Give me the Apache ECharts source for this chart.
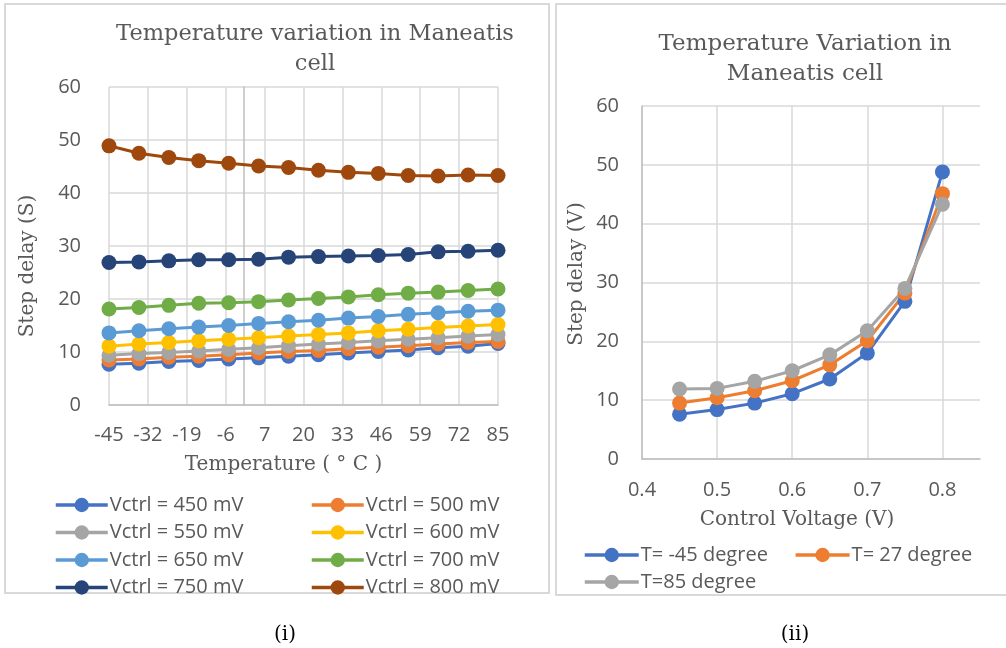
<!DOCTYPE html>
<html>
<head>
<meta charset="utf-8">
<script src="https://cdn.jsdelivr.net/npm/echarts@6/dist/echarts.min.js"></script>
<style>
html,body{margin:0;padding:0;background:#fff;}
#chart{width:1006px;height:648px;}
</style>
</head>
<body>
<div id="chart"></div>
<script>
// ---- Left chart data (temperature sweep) ----
const temps = [-45, -35, -25, -15, -5, 5, 15, 25, 35, 45, 55, 65, 75, 85];
const v450 = [7.7, 7.9, 8.2, 8.4, 8.7, 8.9, 9.2, 9.5, 9.8, 10.1, 10.4, 10.8, 11.1, 11.6];
const v500 = [8.5, 8.7, 9.0, 9.2, 9.5, 9.8, 10.1, 10.3, 10.6, 10.9, 11.2, 11.5, 11.8, 12.0];
const v550 = [9.4, 9.7, 9.9, 10.2, 10.5, 10.8, 11.2, 11.5, 11.8, 12.1, 12.4, 12.7, 13.0, 13.3];
const v600 = [11.1, 11.5, 11.8, 12.1, 12.4, 12.7, 13.0, 13.3, 13.6, 14.0, 14.3, 14.6, 14.9, 15.2];
const v650 = [13.6, 14.0, 14.4, 14.7, 15.0, 15.4, 15.7, 16.0, 16.4, 16.7, 17.1, 17.4, 17.7, 17.9];
const v700 = [18.1, 18.4, 18.8, 19.2, 19.3, 19.5, 19.8, 20.1, 20.4, 20.8, 21.1, 21.3, 21.6, 21.9];
const v750 = [26.9, 27.0, 27.2, 27.4, 27.4, 27.5, 27.9, 28.0, 28.1, 28.2, 28.4, 28.9, 29.0, 29.2];
const v800 = [48.9, 47.5, 46.7, 46.1, 45.6, 45.1, 44.8, 44.3, 43.9, 43.7, 43.3, 43.2, 43.4, 43.3];
const leftNames = ['Vctrl = 450 mV', 'Vctrl = 500 mV', 'Vctrl = 550 mV', 'Vctrl = 600 mV',
                   'Vctrl = 650 mV', 'Vctrl = 700 mV', 'Vctrl = 750 mV', 'Vctrl = 800 mV'];
const leftValues = [v450, v500, v550, v600, v650, v700, v750, v800];

// ---- Right chart data (control voltage sweep) ----
const vctrl = [0.45, 0.5, 0.55, 0.6, 0.65, 0.7, 0.75, 0.8];
const tMinus45 = [7.6, 8.4, 9.5, 11.1, 13.6, 18.0, 26.8, 48.8];
const t27 = [9.5, 10.4, 11.6, 13.3, 16.0, 20.1, 28.2, 45.1];
const t85 = [11.9, 12.0, 13.2, 15.0, 17.7, 21.8, 29.0, 43.3];
const rightNames = ['T= -45 degree', 'T= 27 degree', 'T=85 degree'];
const rightValues = [tMinus45, t27, t85];

// ---- Axis ranges / tick labels ----
const leftX = { min: -45, max: 85, step: 13 };
const rightX = { min: 0.4, max: 0.85, step: 0.1 };
const yRange = { min: 0, max: 60, step: 10 };

const leftColors = ['#4472C4', '#ED7D31', '#A5A5A5', '#FFC000', '#5B9BD5', '#70AD47', '#264478', '#9E480E'];
const rightColors = ['#4472C4', '#ED7D31', '#A5A5A5'];

const SANS = '"Open Sans", "Noto Sans", sans-serif';
const SERIF = '"DejaVu Serif", serif';
const TXT = '#595959';
const GRID = '#d9d9d9';
const AXIS = '#bfbfbf';

function zip(xs, ys) { return xs.map((x, i) => [x, ys[i]]); }

const series = [];
leftNames.forEach((n, i) => {
  series.push({
    name: n, type: 'line', xAxisIndex: 0, yAxisIndex: 0,
    data: zip(temps, leftValues[i]),
    symbol: 'circle', symbolSize: 15,
    lineStyle: { width: 3, color: leftColors[i] },
    itemStyle: { color: leftColors[i] },
    emphasis: { disabled: true }, animation: false
  });
});
rightNames.forEach((n, i) => {
  series.push({
    name: n, type: 'line', xAxisIndex: 1, yAxisIndex: 2,
    data: zip(vctrl, rightValues[i]),
    symbol: 'circle', symbolSize: 15,
    lineStyle: { width: 3, color: rightColors[i] },
    itemStyle: { color: rightColors[i] },
    emphasis: { disabled: true }, animation: false
  });
});

const labelStyle = { color: TXT, fontFamily: SANS, fontSize: 20 };
const legendBase = {
  itemWidth: 52, itemHeight: 18,
  lineStyle: { width: 3.5 },
  textStyle: { color: TXT, fontFamily: SANS, fontSize: 20, padding: [0, 0, 0, -3] },
  selectedMode: false, padding: 0
};

const option = {
  backgroundColor: '#fff',
  animation: false,
  title: [
    { text: 'Temperature variation in Maneatis\ncell', left: 310, top: 14, textAlign: 'center',
      textStyle: { fontFamily: SERIF, fontSize: 22.5, fontWeight: 'normal', color: TXT, lineHeight: 30 } },
    { text: 'Temperature Variation in\nManeatis cell', left: 800, top: 24, textAlign: 'center',
      textStyle: { fontFamily: SERIF, fontSize: 23, fontWeight: 'normal', color: TXT, lineHeight: 30 } },
    { text: '(i)', left: 280, top: 620, textAlign: 'center',
      textStyle: { fontFamily: SERIF, fontSize: 20, fontWeight: 'normal', color: '#000' } },
    { text: '(ii)', left: 790, top: 620, textAlign: 'center',
      textStyle: { fontFamily: SERIF, fontSize: 20, fontWeight: 'normal', color: '#000' } }
  ],
  graphic: [
    { type: 'rect', shape: { x: 5, y: 4, width: 544, height: 589 }, silent: true,
      style: { fill: 'none', stroke: '#d9d9d9', lineWidth: 2 } },
    { type: 'rect', shape: { x: 556, y: 4, width: 470, height: 591 }, silent: true,
      style: { fill: 'none', stroke: '#d9d9d9', lineWidth: 2 } }
  ],
  legend: [
    Object.assign({}, legendBase, { data: [leftNames[0], leftNames[2], leftNames[4], leftNames[6]],
      orient: 'vertical', left: 54, top: 495, itemGap: 7.5 }),
    Object.assign({}, legendBase, { data: [leftNames[1], leftNames[3], leftNames[5], leftNames[7]],
      orient: 'vertical', left: 310, top: 495, itemGap: 7.5 }),
    Object.assign({}, legendBase, { data: [rightNames[0], rightNames[1]],
      orient: 'horizontal', left: 583, top: 545, itemGap: 26, itemWidth: 54 }),
    Object.assign({}, legendBase, { data: [rightNames[2]],
      orient: 'horizontal', left: 583, top: 572, itemWidth: 54 })
  ],
  grid: [
    { left: 109, top: 87, width: 389, height: 318, containLabel: false },
    { left: 642, top: 106, width: 338, height: 353, containLabel: false }
  ],
  xAxis: [
    { type: 'value', gridIndex: 0, min: leftX.min, max: leftX.max, interval: leftX.step,
      name: 'Temperature ( ° C )', nameLocation: 'middle', nameGap: 50,
      nameTextStyle: { fontFamily: SERIF, fontSize: 20, color: TXT, padding: [0, 40, 0, 0] },
      axisLine: { onZero: false, lineStyle: { color: AXIS, width: 1.5 } },
      axisTick: { show: false },
      axisLabel: Object.assign({ margin: 20 }, labelStyle),
      splitLine: { show: true, lineStyle: { color: GRID, width: 1.5 } } },
    { type: 'value', gridIndex: 1, min: rightX.min, max: rightX.max, interval: rightX.step,
      name: 'Control Voltage (V)', nameLocation: 'middle', nameGap: 51,
      nameTextStyle: { fontFamily: SERIF, fontSize: 20, color: TXT, padding: [0, 28, 0, 0] },
      axisLine: { onZero: false, lineStyle: { color: AXIS, width: 1.5 } },
      axisTick: { show: false },
      axisLabel: Object.assign({ margin: 21, showMaxLabel: false,
        formatter: v => (Math.abs(v - rightX.max) < 1e-6 ? '' : v.toFixed(1)) }, labelStyle),
      splitLine: { show: true, showMaxLine: false, lineStyle: { color: GRID, width: 1.5 } } }
  ],
  yAxis: [
    { type: 'value', gridIndex: 0, min: yRange.min, max: yRange.max, interval: yRange.step,
      name: 'Step delay (S)', nameLocation: 'middle', nameGap: 71,
      nameTextStyle: { fontFamily: SERIF, fontSize: 20, color: TXT, padding: [0, 40, 0, 0] },
      axisLine: { show: false, onZero: false },
      axisTick: { show: false },
      axisLabel: Object.assign({ margin: 28 }, labelStyle),
      splitLine: { show: true, lineStyle: { color: GRID, width: 1.5 } } },
    { type: 'value', gridIndex: 0, min: yRange.min, max: yRange.max, interval: yRange.step,
      position: 'left',
      axisLine: { show: true, onZero: true, onZeroAxisIndex: 0, lineStyle: { color: AXIS, width: 1.5 } },
      axisTick: { show: false }, axisLabel: { show: false }, splitLine: { show: false } },
    { type: 'value', gridIndex: 1, min: yRange.min, max: yRange.max, interval: yRange.step,
      name: 'Step delay (V)', nameLocation: 'middle', nameGap: 55,
      nameTextStyle: { fontFamily: SERIF, fontSize: 20, color: TXT, padding: [0, 0, 0, 17] },
      axisLine: { show: true, onZero: false, lineStyle: { color: AXIS, width: 1.5 } },
      axisTick: { show: false },
      axisLabel: Object.assign({ margin: 23 }, labelStyle),
      splitLine: { show: true, lineStyle: { color: GRID, width: 1.5 } } }
  ],
  series: series
};

const chart = echarts.init(document.getElementById('chart'), null, { renderer: 'canvas' });
chart.setOption(option);
</script>
</body>
</html>
